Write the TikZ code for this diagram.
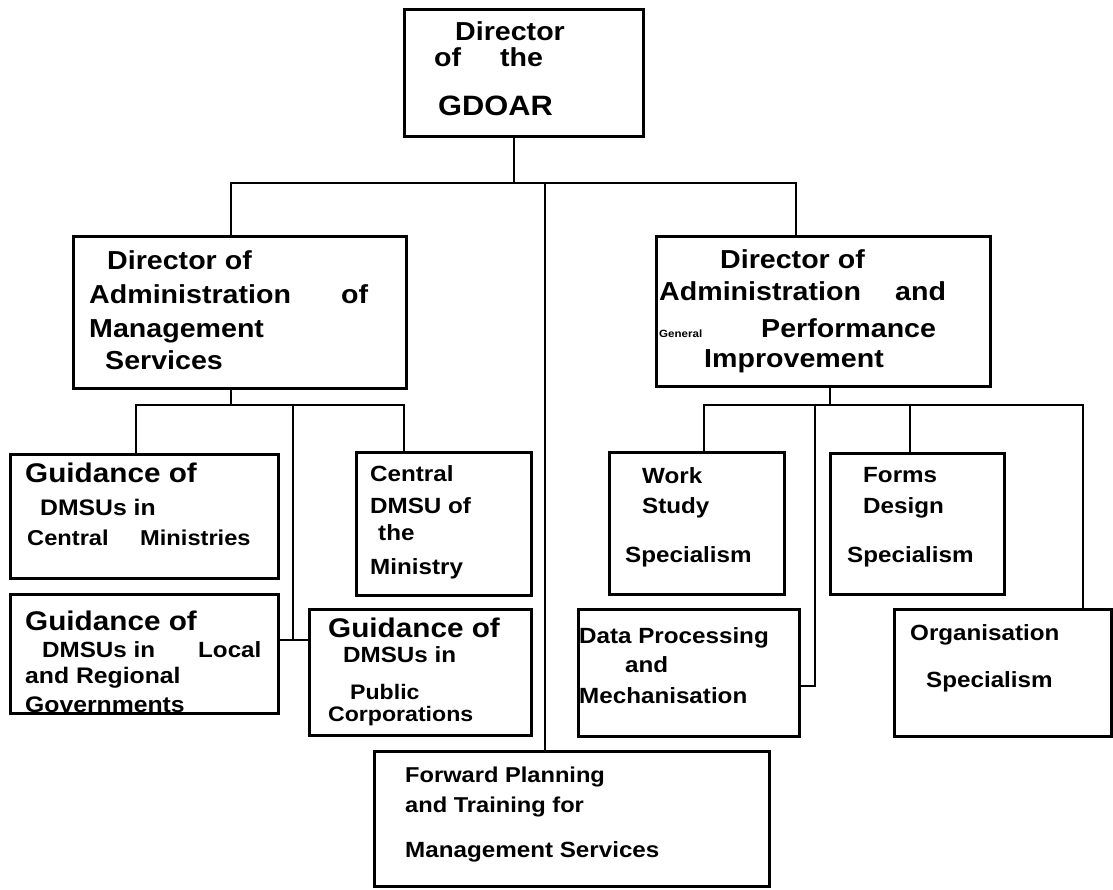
\documentclass[tikz,border=0pt]{standalone}
\usepackage{fontspec}
\newfontfamily\chartfont{Liberation Sans}[FakeStretch=1.1]

% empty framed box given by its top-left and bottom-right corners
\newcommand\orgbox[5]{\node[box, minimum width={#4-#2}, minimum height={#5-#3}] (#1) at (#2,#3) {};}
% one line of box text, placed by its left end on the baseline
\newcommand\lbl[5]{\node[txt, font=\chartfont\bfseries\fontsize{#4}{#4}\selectfont] (#1) at (#2,#3) {#5};}

\begin{document}
\begin{tikzpicture}[x=1pt, y=-1pt,
  box/.style={draw, line width=2.8pt, inner sep=0pt, anchor=north west},
  link/.style={line width=2.7pt},
  txt/.style={inner sep=0pt, anchor=base west}]

\fill[white] (0,0) rectangle (1113,889);
\useasboundingbox (0,0) rectangle (1113,889);

% ---------- boxes ----------
\orgbox{gdoar}{403}{8}{642}{135}
\orgbox{dams}{72}{235}{405}{387}
\orgbox{dapi}{655}{235}{989}{385}
\orgbox{cm}{9}{453}{277}{577}
\orgbox{local}{9}{593}{277}{712}
\orgbox{cdmsu}{355}{451}{530}{594}
\orgbox{public}{308}{608}{530}{734}
\orgbox{work}{608}{451}{783}{593}
\orgbox{forms}{829}{452}{1003}{593}
\orgbox{dp}{577}{608}{798}{735}
\orgbox{org}{893}{608}{1110}{735}
\orgbox{fwd}{373}{750}{768}{885}

% ---------- texts ----------
\lbl{gdoarA}{455}{40}{26}{Director}
\lbl{gdoarB}{434}{66}{26}{of}
\lbl{gdoarC}{500}{66}{26}{the}
\lbl{gdoarD}{438}{115}{28}{GDOAR}

\lbl{damsA}{107}{269}{26}{Director of}
\lbl{damsB}{89}{303}{26}{Administration}
\lbl{damsC}{341}{303}{26}{of}
\lbl{damsD}{89}{337}{26}{Management}
\lbl{damsE}{105}{369}{26}{Services}

\lbl{dapiA}{720}{268}{26}{Director of}
\lbl{dapiB}{659}{300}{26}{Administration}
\lbl{dapiC}{895}{300}{26}{and}
\lbl{dapiD}{659}{337}{10.5}{General}
\lbl{dapiE}{761}{337}{26}{Performance}
\lbl{dapiF}{704}{367}{26}{Improvement}

\lbl{cmA}{25}{482}{27}{Guidance of}
\lbl{cmB}{40}{515}{22.5}{DMSUs in}
\lbl{cmC}{27}{545}{21.5}{Central}
\lbl{cmD}{140}{545}{21.5}{Ministries}

\lbl{localA}{25}{630}{27}{Guidance of}
\lbl{localB}{42}{657}{22}{DMSUs in}
\lbl{localC}{198}{657}{22}{Local}
\lbl{localD}{25}{683}{22.5}{and Regional}
\lbl{localE}{25}{712}{22.5}{Governments}

\lbl{cdmsuA}{370}{481}{22}{Central}
\lbl{cdmsuB}{370}{513}{22}{DMSU of}
\lbl{cdmsuC}{378}{540}{22}{the}
\lbl{cdmsuD}{370}{574}{22}{Ministry}

\lbl{publicA}{328}{637}{27}{Guidance of}
\lbl{publicB}{343}{662}{22}{DMSUs in}
\lbl{publicC}{350}{699}{21}{Public}
\lbl{publicD}{328}{721}{21}{Corporations}

\lbl{workA}{642}{483}{22}{Work}
\lbl{workB}{642}{513}{22}{Study}
\lbl{workC}{625}{562}{22}{Specialism}

\lbl{formsA}{863}{482}{22}{Forms}
\lbl{formsB}{863}{513}{22}{Design}
\lbl{formsC}{847}{562}{22}{Specialism}

\lbl{dpA}{579}{643}{22}{Data Processing}
\lbl{dpB}{625}{672}{22}{and}
\lbl{dpC}{579}{703}{22}{Mechanisation}

\lbl{orgA}{910}{640}{22}{Organisation}
\lbl{orgB}{926}{687}{22}{Specialism}

\lbl{fwdA}{405}{782}{21.5}{Forward Planning}
\lbl{fwdB}{405}{812}{21.5}{and Training for}
\lbl{fwdC}{405}{857}{22}{Management Services}

% ---------- top level connectors ----------
\coordinate (topjoin) at (514,183);
\coordinate (busL) at (231,183);
\coordinate (busR) at (796,183);
\coordinate (busC) at (545,183);
\draw[link] (gdoar.south -| topjoin) -- (topjoin);
\draw[link] (dams.north -| busL) -- (busL) -- (busR) -- (dapi.north -| busR);
\draw[link] (busC) -- (fwd.north -| busC);

% ---------- management services branch ----------
\coordinate (lstem) at (231,405);
\coordinate (lbusW) at (136,405);
\coordinate (lbusE) at (404,405);
\coordinate (lmid) at (293,405);
\coordinate (lknee) at (293,640);
\draw[link] (dams.south -| lstem) -- (lstem);
\draw[link] (cm.north -| lbusW) -- (lbusW) -- (lbusE) -- (cdmsu.north -| lbusE);
\draw[link] (lmid) -- (lknee);
\draw[link] (local.east |- lknee) -- (public.west |- lknee);

% ---------- performance improvement branch ----------
\coordinate (rstem) at (830,405);
\coordinate (rbusW) at (704,405);
\coordinate (rbusE) at (1083,405);
\coordinate (rdrop) at (815,405);
\coordinate (rknee) at (815,686);
\coordinate (rforms) at (910,405);
\draw[link] (dapi.south -| rstem) -- (rstem);
\draw[link] (work.north -| rbusW) -- (rbusW) -- (rbusE) -- (org.north -| rbusE);
\draw[link] (rdrop) -- (rknee) -- (dp.east |- rknee);
\draw[link] (rforms) -- (forms.north -| rforms);

\end{tikzpicture}
\end{document}
